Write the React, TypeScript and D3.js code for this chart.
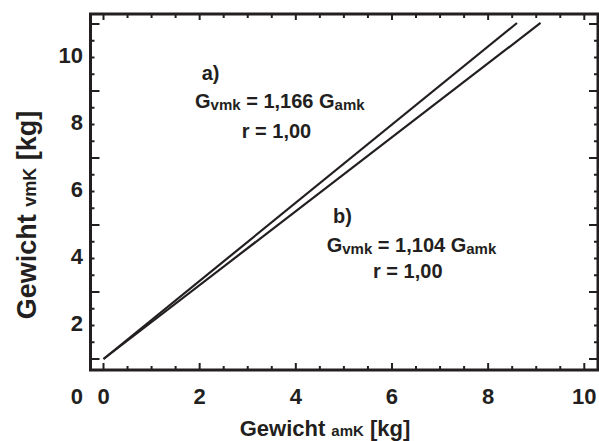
import React from "react";
import * as d3 from "d3";

// ---- data ----
const xTickValues = [0, 2, 4, 6, 8, 10];
const yTickValues = [2, 4, 6, 8, 10];
const tickLabels = ["0", "2", "4", "6", "8", "10"];
const lineA_x = [0, 8.6];
const lineA_y = [0, 10.03];
const lineB_x = [0, 9.09];
const lineB_y = [0, 10.03];
const annA = ["a)", "G", "vmk", " = 1,166 G", "amk", "r = 1,00"];
const annB = ["b)", "G", "vmk", " = 1,104 G", "amk", "r = 1,00"];
const xTitle = ["Gewicht ", "amK", " [kg]"];
const yTitle = ["Gewicht ", "vmK", " [kg]"];

const W = 599;
const H = 441;
const FONT = "'Liberation Sans', Arial, Helvetica, sans-serif";
const INK = "#231f20";

export default function App() {
  const frame = { left: 90.5, right: 598, top: 14, bottom: 370 };
  const x = d3.scaleLinear().domain([0, 10]).range([103.5, 584.3]);
  const y = d3.scaleLinear().domain([0, 10]).range([359, 24]);
  const minor = d3.range(0, 10.01, 0.5);
  const line = d3
    .line<[number, number]>()
    .x((d) => x(d[0]))
    .y((d) => y(d[1]));
  const ptsA = lineA_x.map((v, i) => [v, lineA_y[i]] as [number, number]);
  const ptsB = lineB_x.map((v, i) => [v, lineB_y[i]] as [number, number]);

  const ann = (a: string[], lx: number, ly: number, gx: number, gy: number, rx: number, ry: number) => (
    <g fontFamily={FONT} fontWeight="bold" fill={INK} fontSize={20}>
      <text x={lx} y={ly}>{a[0]}</text>
      <text x={gx} y={gy}>
        {a[1]}
        <tspan fontSize={15} dy={2}>{a[2]}</tspan>
        <tspan dy={-2}>{a[3]}</tspan>
        <tspan fontSize={15} dy={2}>{a[4]}</tspan>
      </text>
      <text x={rx} y={ry}>{a[5]}</text>
    </g>
  );

  return (
    <svg
      width={W}
      height={H}
      style={{ position: "absolute", left: 0, top: 0, background: "#fff" }}
    >
      {/* ticks */}
      <g stroke={INK} strokeWidth={2}>
        {minor.map((v) => {
          const major = Math.abs(v % 2) < 1e-6;
          return (
            <g key={"t" + v}>
              <line x1={x(v)} x2={x(v)} y1={frame.bottom} y2={frame.bottom - (major ? 7 : 4)} />
              <line x1={x(v)} x2={x(v)} y1={frame.top} y2={frame.top + (major ? 6 : 4)} />
              <line x1={frame.left} x2={frame.left + (major ? 9 : 4)} y1={y(v)} y2={y(v)} />
              <line x1={frame.right} x2={frame.right - (major ? 9 : 4)} y1={y(v)} y2={y(v)} />
            </g>
          );
        })}
      </g>
      {/* frame */}
      <rect
        x={frame.left}
        y={frame.top}
        width={frame.right - frame.left}
        height={frame.bottom - frame.top}
        fill="none"
        stroke={INK}
        strokeWidth={3}
      />
      {/* lines */}
      <path d={line(ptsA) || ""} fill="none" stroke={INK} strokeWidth={2.2} />
      <path d={line(ptsB) || ""} fill="none" stroke={INK} strokeWidth={2.2} />
      {/* tick labels */}
      <g fontFamily={FONT} fontWeight="bold" fontSize={22} fill={INK}>
        {xTickValues.map((v, i) => (
          <text key={"xl" + v} x={x(v)} y={frame.bottom + 34} textAnchor="middle">
            {tickLabels[i]}
          </text>
        ))}
        {yTickValues.map((v) => (
          <text key={"yl" + v} x={83} y={y(v) + 38.5} textAnchor="end">
            {tickLabels[xTickValues.indexOf(v)]}
          </text>
        ))}
        <text x={83} y={frame.bottom + 34} textAnchor="end">
          {tickLabels[0]}
        </text>
      </g>
      {/* axis titles */}
      <text x={325} y={436} textAnchor="middle" fontFamily={FONT} fontWeight="bold" fontSize={22} fill={INK}>
        {xTitle[0]}
        <tspan fontSize={15}>{xTitle[1]}</tspan>
        {xTitle[2]}
      </text>
      <text
        transform="translate(36,215) rotate(-90)"
        textAnchor="middle"
        fontFamily={FONT}
        fontWeight="bold"
        fontSize={27}
        fill={INK}
      >
        {yTitle[0]}
        <tspan fontSize={18}>{yTitle[1]}</tspan>
        {yTitle[2]}
      </text>
      {ann(annA, 201.7, 80, 195, 108, 241.7, 137.7)}
      {ann(annB, 333, 223, 326.7, 251.7, 373, 278)}
    </svg>
  );
}
